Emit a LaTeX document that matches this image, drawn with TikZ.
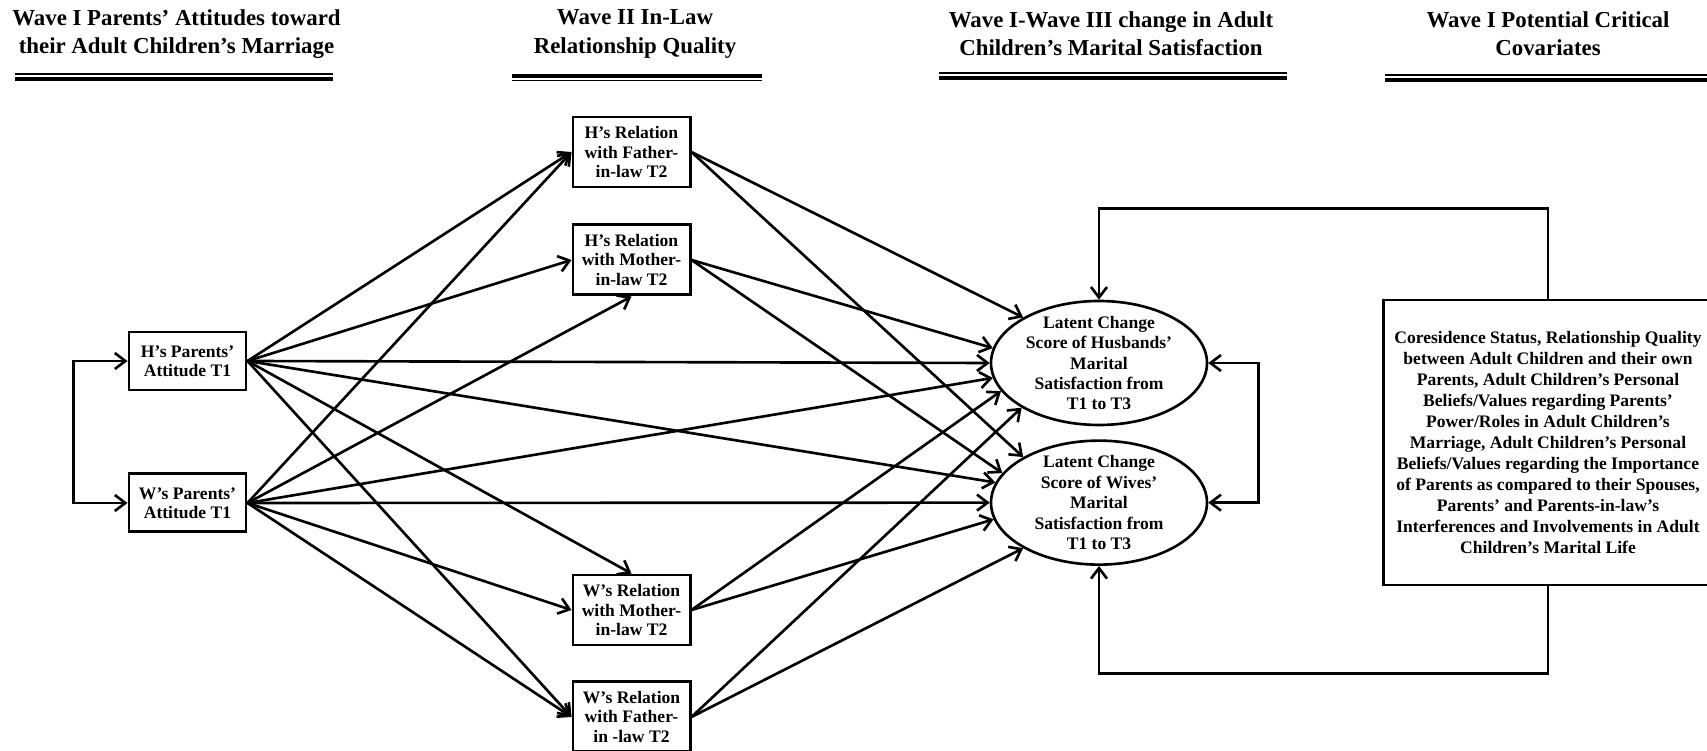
\documentclass[tikz,border=0pt]{standalone}
\usepackage{fontspec}
\setmainfont{Liberation Serif}
\usepackage{tikz}
\usetikzlibrary{shapes.geometric, arrows.meta, positioning}
\definecolor{primaryColor}{RGB}{0,0,0}
\tikzstyle{measure} = [rectangle, minimum width=2.34cm, minimum height=1.16cm, align=center, draw=primaryColor, text=primaryColor, line width=1.7pt, inner sep=0pt, font=\bfseries\fontsize{10}{11}\selectfont]
\tikzstyle{inlaw} = [measure, minimum height=1.4cm]
\tikzstyle{latent} = [ellipse, minimum width=4.32cm, minimum height=2.48cm, draw=primaryColor, line width=1.5pt, inner sep=0pt]
\tikzstyle{latenttext} = [align=center, text=primaryColor, font=\bfseries\fontsize{10}{11.6}\selectfont]
\tikzstyle{covbox} = [rectangle, minimum width=6.6cm, minimum height=5.7cm, align=center, draw=primaryColor, text=primaryColor, line width=1.7pt, font=\bfseries\fontsize{10}{12}\selectfont]
\tikzstyle{heading} = [align=center, text=primaryColor, font=\bfseries\fontsize{13}{16}\selectfont]
\tikzstyle{arrow} = [line width=1.5pt, ->, >={Straight Barb[length=2.1mm,width=3.2mm]}, primaryColor]
\tikzstyle{thinrule} = [line width=0.7pt, primaryColor]
\tikzstyle{thickrule} = [line width=2.6pt, primaryColor]

\begin{document}
\begin{tikzpicture}
    \useasboundingbox (0,0) rectangle (34.14,-15.02);

    % Headings
    \node (head_att) [heading] at (3.53,-0.68) {Wave I Parents' Attitudes toward\\their Adult Children's Marriage};
    \node (head_rel) [heading] at (12.70,-0.68) {Wave II In-Law\\Relationship Quality};
    \node (head_sat) [heading] at (22.22,-0.68) {Wave I-Wave III change in Adult\\Children's Marital Satisfaction};
    \node (head_cov) [heading] at (30.96,-0.68) {Wave I Potential Critical\\Covariates};
    \draw [thinrule] (0.30,-1.48) -- (6.66,-1.48);
    \draw [thickrule] (0.30,-1.58) -- (6.66,-1.58);
    \draw [thickrule] (10.24,-1.52) -- (15.24,-1.52);
    \draw [thinrule] (10.24,-1.61) -- (15.24,-1.61);
    \draw [thinrule] (18.78,-1.46) -- (25.74,-1.46);
    \draw [thickrule] (18.78,-1.56) -- (25.74,-1.56);
    \draw [thinrule] (27.70,-1.50) -- (34.30,-1.50);
    \draw [thickrule] (27.70,-1.60) -- (34.30,-1.60);

    % Parents' attitudes
    \node (h_par) [measure] at (3.75,-7.22) {H's Parents'\\Attitude T1};
    \node (w_par) [measure, below=1.62cm of h_par] {W's Parents'\\Attitude T1};

    % In-law relations
    \node (h_fa) [inlaw] at (12.63,-3.04) {H's Relation\\with Father-\\in-law T2};
    \node (h_mo) [inlaw, below=0.7cm of h_fa] {H's Relation\\with Mother-\\in-law T2};
    \node (w_mo) [inlaw] at (12.63,-12.2) {W's Relation\\with Mother-\\in-law T2};
    \node (w_fa) [inlaw, below=0.68cm of w_mo] {W's Relation\\with Father-\\in -law T2};

    % Marital satisfaction
    \node (lat_h) [latent] at (21.98,-7.26) {};
    \node (lat_w) [latent, below=0.26cm of lat_h] {};
    \node (lat_h_txt) [latenttext] at (lat_h) {Latent Change\\Score of Husbands'\\Marital\\Satisfaction from\\T1 to T3};
    \node (lat_w_txt) [latenttext] at (lat_w) {Latent Change\\Score of Wives'\\Marital\\Satisfaction from\\T1 to T3};

    % Covariates
    \node (cov) [covbox] at (30.96,-8.85) {Coresidence Status, Relationship Quality\\between Adult Children and their own\\Parents, Adult Children's Personal\\Beliefs/Values regarding Parents'\\Power/Roles in Adult Children's\\Marriage, Adult Children's Personal\\Beliefs/Values regarding the Importance\\of Parents as compared to their Spouses,\\Parents' and Parents-in-law's\\Interferences and Involvements in Adult\\Children's Marital Life};

    % Correlations
    \draw [arrow, <->] (h_par.west) -- ++(-1.08,0) |- (w_par.west);
    \draw [arrow, <->] (lat_h.east) -- ++(1.0,0) |- (lat_w.east);

    % Paths from H's parents
    \draw [arrow] (h_par.east) -- (h_fa.west);
    \draw [arrow] (h_par.east) -- (h_mo.west);
    \draw [arrow] (h_par.east) -- (lat_h.west);
    \draw [arrow] (h_par.east) -- (lat_w.169);
    \draw [arrow] (h_par.east) -- (w_mo.north);
    \draw [arrow] (h_par.east) -- (w_fa.west);

    % Paths from W's parents
    \draw [arrow] (w_par.east) -- (h_fa.west);
    \draw [arrow] (w_par.east) -- (h_mo.south);
    \draw [arrow] (w_par.east) -- (lat_h.188);
    \draw [arrow] (w_par.east) -- (lat_w.west);
    \draw [arrow] (w_par.east) -- (w_mo.west);
    \draw [arrow] (w_par.east) -- (w_fa.west);

    % Paths from in-law relations
    \draw [arrow] (h_fa.east) -- (lat_h.149);
    \draw [arrow] (h_fa.east) -- (lat_w.149);
    \draw [arrow] (h_mo.east) -- (lat_h.172);
    \draw [arrow] (h_mo.east) -- (lat_w.163);
    \draw [arrow] (w_mo.east) -- (lat_h.196);
    \draw [arrow] (w_mo.east) -- (lat_w.189);
    \draw [arrow] (w_fa.east) -- (lat_h.210);
    \draw [arrow] (w_fa.east) -- (lat_w.211);

    % Covariate paths
    \draw [arrow] (cov.north) -- ++(0,1.8) -| (lat_h.north);
    \draw [arrow] (cov.south) -- ++(0,-1.74) -| (lat_w.south);
\end{tikzpicture}
\end{document}
